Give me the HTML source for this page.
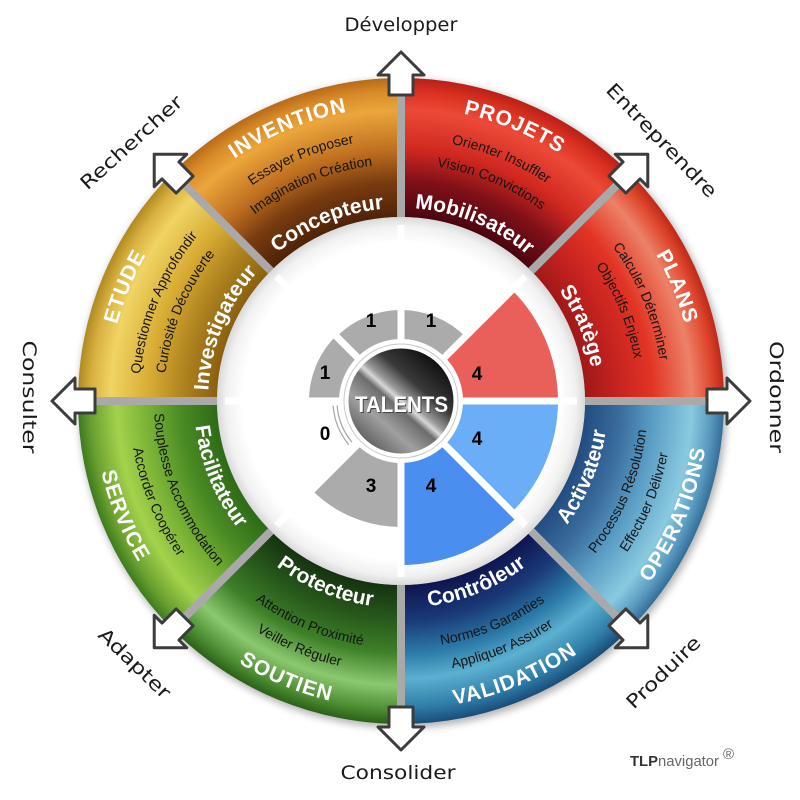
<!DOCTYPE html>
<html><head><meta charset="utf-8"><style>
html,body{margin:0;padding:0;background:#fff;}
svg{display:block;}
.t{font-family:"Liberation Sans",sans-serif;font-weight:bold;font-size:21px;fill:#fff;letter-spacing:1px;}
.v{font-family:"Liberation Sans",sans-serif;font-size:14px;fill:#151515;}
.r{font-family:"Liberation Sans",sans-serif;font-weight:bold;font-size:21px;fill:#fff;}
.h{font-family:"DejaVu Sans",sans-serif;font-size:19px;fill:#1a1a1a;}
.n{font-family:"Liberation Sans",sans-serif;font-weight:bold;font-size:19px;fill:#000;}
</style></head><body>
<svg width="800" height="800" viewBox="0 0 800 800" xmlns="http://www.w3.org/2000/svg">
<defs>
<filter id="blur" x="-20%" y="-20%" width="140%" height="140%"><feGaussianBlur stdDeviation="4"/></filter>
<radialGradient id="gIn" gradientUnits="userSpaceOnUse" cx="401" cy="401" r="184">
<stop offset="0" stop-color="#fff"/><stop offset="0.86" stop-color="#fff"/><stop offset="0.95" stop-color="#f1f1f1"/><stop offset="1" stop-color="#d9d9d9"/></radialGradient>
<radialGradient id="gInv" gradientUnits="userSpaceOnUse" cx="401" cy="401" r="323">
<stop offset="0.57" stop-color="#4E2208"/><stop offset="0.68" stop-color="#7A3C10"/><stop offset="0.78" stop-color="#C07020"/><stop offset="0.9" stop-color="#EBA63C"/><stop offset="0.96" stop-color="#D88A28"/><stop offset="1" stop-color="#B86A18"/></radialGradient>
<radialGradient id="gPro" gradientUnits="userSpaceOnUse" cx="401" cy="401" r="323">
<stop offset="0.57" stop-color="#4A0610"/><stop offset="0.68" stop-color="#801018"/><stop offset="0.78" stop-color="#D02820"/><stop offset="0.9" stop-color="#EC4A38"/><stop offset="0.96" stop-color="#DA3020"/><stop offset="1" stop-color="#B82018"/></radialGradient>
<radialGradient id="gPla" gradientUnits="userSpaceOnUse" cx="401" cy="401" r="323">
<stop offset="0.57" stop-color="#A01818"/><stop offset="0.68" stop-color="#C82420"/><stop offset="0.78" stop-color="#E23424"/><stop offset="0.9" stop-color="#EC8268"/><stop offset="0.96" stop-color="#E04A30"/><stop offset="1" stop-color="#C02818"/></radialGradient>
<radialGradient id="gOps" gradientUnits="userSpaceOnUse" cx="401" cy="401" r="323">
<stop offset="0.57" stop-color="#224C80"/><stop offset="0.68" stop-color="#3A6C9C"/><stop offset="0.78" stop-color="#5A9CC4"/><stop offset="0.9" stop-color="#8ACAE0"/><stop offset="0.96" stop-color="#5A9AC0"/><stop offset="1" stop-color="#346E98"/></radialGradient>
<radialGradient id="gVal" gradientUnits="userSpaceOnUse" cx="401" cy="401" r="323">
<stop offset="0.57" stop-color="#0E1450"/><stop offset="0.68" stop-color="#1A3A78"/><stop offset="0.78" stop-color="#2C7AA8"/><stop offset="0.86" stop-color="#5CB0D0"/><stop offset="0.95" stop-color="#2E7CA8"/><stop offset="1" stop-color="#1A4C78"/></radialGradient>
<radialGradient id="gSou" gradientUnits="userSpaceOnUse" cx="401" cy="401" r="323">
<stop offset="0.57" stop-color="#163210"/><stop offset="0.68" stop-color="#285A1C"/><stop offset="0.78" stop-color="#3E8028"/><stop offset="0.88" stop-color="#8CC870"/><stop offset="0.96" stop-color="#4A8A30"/><stop offset="1" stop-color="#2C6018"/></radialGradient>
<radialGradient id="gSer" gradientUnits="userSpaceOnUse" cx="401" cy="401" r="323">
<stop offset="0.57" stop-color="#2E6A18"/><stop offset="0.68" stop-color="#4A8A24"/><stop offset="0.78" stop-color="#76B034"/><stop offset="0.88" stop-color="#A4D24C"/><stop offset="0.96" stop-color="#6AA030"/><stop offset="1" stop-color="#3E7A1E"/></radialGradient>
<radialGradient id="gEtu" gradientUnits="userSpaceOnUse" cx="401" cy="401" r="323">
<stop offset="0.57" stop-color="#8A6010"/><stop offset="0.68" stop-color="#B08420"/><stop offset="0.78" stop-color="#D8AC34"/><stop offset="0.9" stop-color="#F0D464"/><stop offset="0.96" stop-color="#D8B040"/><stop offset="1" stop-color="#B08A20"/></radialGradient>
<linearGradient id="gMet" x1="0.85" y1="0.1" x2="0.15" y2="0.9">
<stop offset="0" stop-color="#0d0d0d"/><stop offset="0.3" stop-color="#3a3a3a"/><stop offset="0.45" stop-color="#9a9a9a"/><stop offset="0.5" stop-color="#d8d8d8"/><stop offset="0.56" stop-color="#6c6c6c"/><stop offset="0.75" stop-color="#a0a0a0"/><stop offset="1" stop-color="#5e5e5e"/></linearGradient>
<path id="sec" d="M277.39 102.59 A323 323 0 0 1 524.61 102.59 L471.41 231 A184 184 0 0 0 330.59 231 Z"/>
<path id="uT" d="M124.73 300.45 A294 294 0 0 1 677.27 300.45"/>
<path id="uV1" d="M154.8 311.39 A262 262 0 0 1 647.2 311.39"/>
<path id="uV2" d="M178.29 319.94 A237 237 0 0 1 623.71 319.94"/>
<path id="uR" d="M219.64 334.99 A193 193 0 0 1 582.36 334.99"/>
<path id="lT" d="M111.58 506.34 A308 308 0 0 0 690.42 506.34"/>
<path id="lV2" d="M145.4 494.03 A272 272 0 0 0 656.6 494.03"/>
<path id="lV1" d="M168.9 485.48 A247 247 0 0 0 633.1 485.48"/>
<path id="lR" d="M206.48 471.8 A207 207 0 0 0 595.52 471.8"/>
<path id="arr" d="M389 95 L389 75 L378 75 L401 52 L424 75 L413 75 L413 95 Z"/>
</defs>

<!-- outer shadow -->
<circle cx="403" cy="404" r="324" fill="#000" opacity="0.3" filter="url(#blur)"/>

<!-- ring sectors -->
<use href="#sec" fill="url(#gInv)" transform="rotate(-22.5 401 401)"/>
<use href="#sec" fill="url(#gPro)" transform="rotate(22.5 401 401)"/>
<use href="#sec" fill="url(#gPla)" transform="rotate(67.5 401 401)"/>
<use href="#sec" fill="url(#gOps)" transform="rotate(112.5 401 401)"/>
<use href="#sec" fill="url(#gVal)" transform="rotate(157.5 401 401)"/>
<use href="#sec" fill="url(#gSou)" transform="rotate(202.5 401 401)"/>
<use href="#sec" fill="url(#gSer)" transform="rotate(247.5 401 401)"/>
<use href="#sec" fill="url(#gEtu)" transform="rotate(-67.5 401 401)"/>

<!-- inner white disk -->
<circle cx="401" cy="401" r="184" fill="url(#gIn)"/>

<!-- separators -->
<g stroke="#a9a9a9" stroke-width="8">
<line x1="401" y1="217" x2="401" y2="78"/>
<line x1="401" y1="217" x2="401" y2="78" transform="rotate(45 401 401)"/>
<line x1="401" y1="217" x2="401" y2="78" transform="rotate(90 401 401)"/>
<line x1="401" y1="217" x2="401" y2="78" transform="rotate(135 401 401)"/>
<line x1="401" y1="217" x2="401" y2="78" transform="rotate(180 401 401)"/>
<line x1="401" y1="217" x2="401" y2="78" transform="rotate(225 401 401)"/>
<line x1="401" y1="217" x2="401" y2="78" transform="rotate(270 401 401)"/>
<line x1="401" y1="217" x2="401" y2="78" transform="rotate(315 401 401)"/>
</g>

<!-- ring texts: upper half -->
<g transform="rotate(-22.5 401 401)">
<text class="t" text-anchor="middle"><textPath href="#uT" startOffset="50%">INVENTION</textPath></text>
<text class="v" text-anchor="middle"><textPath href="#uV1" startOffset="50%">Essayer Proposer</textPath></text>
<text class="v" text-anchor="middle"><textPath href="#uV2" startOffset="50%">Imagination Création</textPath></text>
<text class="r" text-anchor="middle"><textPath href="#uR" startOffset="50%">Concepteur</textPath></text>
</g>
<g transform="rotate(22.5 401 401)">
<text class="t" text-anchor="middle"><textPath href="#uT" startOffset="50%">PROJETS</textPath></text>
<text class="v" text-anchor="middle"><textPath href="#uV1" startOffset="50%">Orienter Insuffler</textPath></text>
<text class="v" text-anchor="middle"><textPath href="#uV2" startOffset="50%">Vision Convictions</textPath></text>
<text class="r" text-anchor="middle"><textPath href="#uR" startOffset="50%">Mobilisateur</textPath></text>
</g>
<g transform="rotate(67.5 401 401)">
<text class="t" text-anchor="middle"><textPath href="#uT" startOffset="50%">PLANS</textPath></text>
<text class="v" text-anchor="middle"><textPath href="#uV1" startOffset="50%">Calculer Déterminer</textPath></text>
<text class="v" text-anchor="middle"><textPath href="#uV2" startOffset="50%">Objectifs Enjeux</textPath></text>
<text class="r" text-anchor="middle"><textPath href="#uR" startOffset="50%">Stratège</textPath></text>
</g>
<g transform="rotate(-67.5 401 401)">
<text class="t" text-anchor="middle"><textPath href="#uT" startOffset="50%">ETUDE</textPath></text>
<text class="v" text-anchor="middle"><textPath href="#uV1" startOffset="50%">Questionner Approfondir</textPath></text>
<text class="v" text-anchor="middle"><textPath href="#uV2" startOffset="50%">Curiosité Découverte</textPath></text>
<text class="r" text-anchor="middle"><textPath href="#uR" startOffset="50%">Investigateur</textPath></text>
</g>

<!-- ring texts: lower half -->
<g transform="rotate(-67.5 401 401)">
<text class="t" text-anchor="middle"><textPath href="#lT" startOffset="50%">OPERATIONS</textPath></text>
<text class="v" text-anchor="middle"><textPath href="#lV1" startOffset="50%">Processus Résolution</textPath></text>
<text class="v" text-anchor="middle"><textPath href="#lV2" startOffset="50%">Effectuer Délivrer</textPath></text>
<text class="r" text-anchor="middle"><textPath href="#lR" startOffset="50%">Activateur</textPath></text>
</g>
<g transform="rotate(-22.5 401 401)">
<text class="t" text-anchor="middle"><textPath href="#lT" startOffset="50%">VALIDATION</textPath></text>
<text class="v" text-anchor="middle"><textPath href="#lV1" startOffset="50%">Normes Garanties</textPath></text>
<text class="v" text-anchor="middle"><textPath href="#lV2" startOffset="50%">Appliquer Assurer</textPath></text>
<text class="r" text-anchor="middle"><textPath href="#lR" startOffset="50%">Contrôleur</textPath></text>
</g>
<g transform="rotate(22.5 401 401)">
<text class="t" text-anchor="middle"><textPath href="#lT" startOffset="50%">SOUTIEN</textPath></text>
<text class="v" text-anchor="middle"><textPath href="#lV1" startOffset="50%">Attention Proximité</textPath></text>
<text class="v" text-anchor="middle"><textPath href="#lV2" startOffset="50%">Veiller Réguler</textPath></text>
<text class="r" text-anchor="middle"><textPath href="#lR" startOffset="50%">Protecteur</textPath></text>
</g>
<g transform="rotate(67.5 401 401)">
<text class="t" text-anchor="middle"><textPath href="#lT" startOffset="50%">SERVICE</textPath></text>
<text class="v" text-anchor="middle"><textPath href="#lV1" startOffset="50%">Souplesse Accommodation</textPath></text>
<text class="v" text-anchor="middle"><textPath href="#lV2" startOffset="50%">Accorder Coopérer</textPath></text>
<text class="r" text-anchor="middle"><textPath href="#lR" startOffset="50%">Facilitateur</textPath></text>
</g>

<!-- arrows -->
<g fill="#fff" stroke="#3c3c3c" stroke-width="3" stroke-linejoin="round">
<use href="#arr"/>
<use href="#arr" transform="rotate(45 401 401)"/>
<use href="#arr" transform="rotate(90 401 401)"/>
<use href="#arr" transform="rotate(135 401 401)"/>
<use href="#arr" transform="rotate(180 401 401)"/>
<use href="#arr" transform="rotate(225 401 401)"/>
<use href="#arr" transform="rotate(270 401 401)"/>
<use href="#arr" transform="rotate(315 401 401)"/>
</g>

<!-- outer handwritten labels -->
<text class="h" text-anchor="middle" transform="translate(401 24)" y="7" textLength="113" lengthAdjust="spacingAndGlyphs">Développer</text>
<text class="h" text-anchor="middle" transform="translate(662 140) rotate(46)" y="7" textLength="150" lengthAdjust="spacingAndGlyphs">Entreprendre</text>
<text class="h" text-anchor="middle" transform="translate(777 397) rotate(90)" y="7" textLength="112" lengthAdjust="spacingAndGlyphs">Ordonner</text>
<text class="h" text-anchor="middle" transform="translate(663 672) rotate(-44)" y="7" textLength="95" lengthAdjust="spacingAndGlyphs">Produire</text>
<text class="h" text-anchor="middle" transform="translate(398 772)" y="7" textLength="115" lengthAdjust="spacingAndGlyphs">Consolider</text>
<text class="h" text-anchor="middle" transform="translate(135 663) rotate(44)" y="7" textLength="92" lengthAdjust="spacingAndGlyphs">Adapter</text>
<text class="h" text-anchor="middle" transform="translate(30 397) rotate(90)" y="7" textLength="113" lengthAdjust="spacingAndGlyphs">Consulter</text>
<text class="h" text-anchor="middle" transform="translate(131 142) rotate(-42)" y="7" textLength="130" lengthAdjust="spacingAndGlyphs">Rechercher</text>

<!-- pie sectors -->
<path d="M336.65 336.65 A91 91 0 0 1 401 310 L401 339 A62 62 0 0 0 357.16 357.16 Z" fill="#ababab"/>
<path d="M401 310 A91 91 0 0 1 465.35 336.65 L444.84 357.16 A62 62 0 0 0 401 339 Z" fill="#ababab"/>
<path d="M512.02 289.98 A157 157 0 0 1 558 401 L463 401 A62 62 0 0 0 444.84 357.16 Z" fill="#E9605A"/>
<path d="M558 401 A157 157 0 0 1 512.02 512.02 L444.84 444.84 A62 62 0 0 0 463 401 Z" fill="#69AEF7"/>
<path d="M516.97 516.97 A164 164 0 0 1 401 565 L401 463 A62 62 0 0 0 444.84 444.84 Z" fill="#4A8FF0"/>
<path d="M401 527 A126 126 0 0 1 311.9 490.1 L357.16 444.84 A62 62 0 0 0 401 463 Z" fill="#ababab"/>
<path d="M309 401 A92 92 0 0 1 335.95 335.95 L357.16 357.16 A62 62 0 0 0 339 401 Z" fill="#ababab"/>
<path d="M337.16 405.46 A64 64 0 0 0 351.97 442.14" fill="none" stroke="#aaa" stroke-width="1.3"/>
<path d="M333.17 405.74 A68 68 0 0 0 348.91 444.71" fill="none" stroke="#aaa" stroke-width="1.3"/>
<!-- white gaps -->
<g stroke="#fff" stroke-width="7">
<line x1="401" y1="401" x2="401" y2="225"/>
<line x1="401" y1="401" x2="401" y2="225" transform="rotate(45 401 401)"/>
<line x1="401" y1="401" x2="401" y2="225" transform="rotate(90 401 401)"/>
<line x1="401" y1="401" x2="401" y2="225" transform="rotate(135 401 401)"/>
<line x1="401" y1="401" x2="401" y2="225" transform="rotate(180 401 401)"/>
<line x1="401" y1="401" x2="401" y2="225" transform="rotate(225 401 401)"/>
<line x1="401" y1="401" x2="401" y2="225" transform="rotate(270 401 401)"/>
<line x1="401" y1="401" x2="401" y2="225" transform="rotate(315 401 401)"/>
</g>

<!-- pie numbers -->
<g class="n" text-anchor="middle">
<text class="n" x="371" y="327">1</text>
<text class="n" x="431" y="327">1</text>
<text class="n" x="325" y="379">1</text>
<text class="n" x="477" y="380">4</text>
<text class="n" x="325" y="440">0</text>
<text class="n" x="477" y="445">4</text>
<text class="n" x="371" y="492">3</text>
<text class="n" x="431" y="492">4</text>
</g>

<!-- TALENTS disc -->
<circle cx="401" cy="401" r="57" fill="#fff" stroke="#c8c8c8" stroke-width="1"/>
<circle cx="401" cy="401" r="52.5" fill="url(#gMet)"/>
<text x="402.5" y="413" text-anchor="middle" font-family="Liberation Sans, sans-serif" font-weight="bold" font-size="22" fill="#444" textLength="93" lengthAdjust="spacingAndGlyphs">TALENTS</text>
<text x="401.5" y="412" text-anchor="middle" font-family="Liberation Sans, sans-serif" font-weight="bold" font-size="22" fill="#fff" textLength="93" lengthAdjust="spacingAndGlyphs">TALENTS</text>

<!-- logo -->
<text x="630" y="766" font-family="Liberation Sans, sans-serif" font-size="14.5" textLength="89" lengthAdjust="spacingAndGlyphs"><tspan font-weight="bold" fill="#333">TLP</tspan><tspan fill="#666">navigator</tspan></text>
<text x="723" y="759" font-family="Liberation Sans, sans-serif" font-size="15" fill="#666">®</text>
</svg>
</body></html>
